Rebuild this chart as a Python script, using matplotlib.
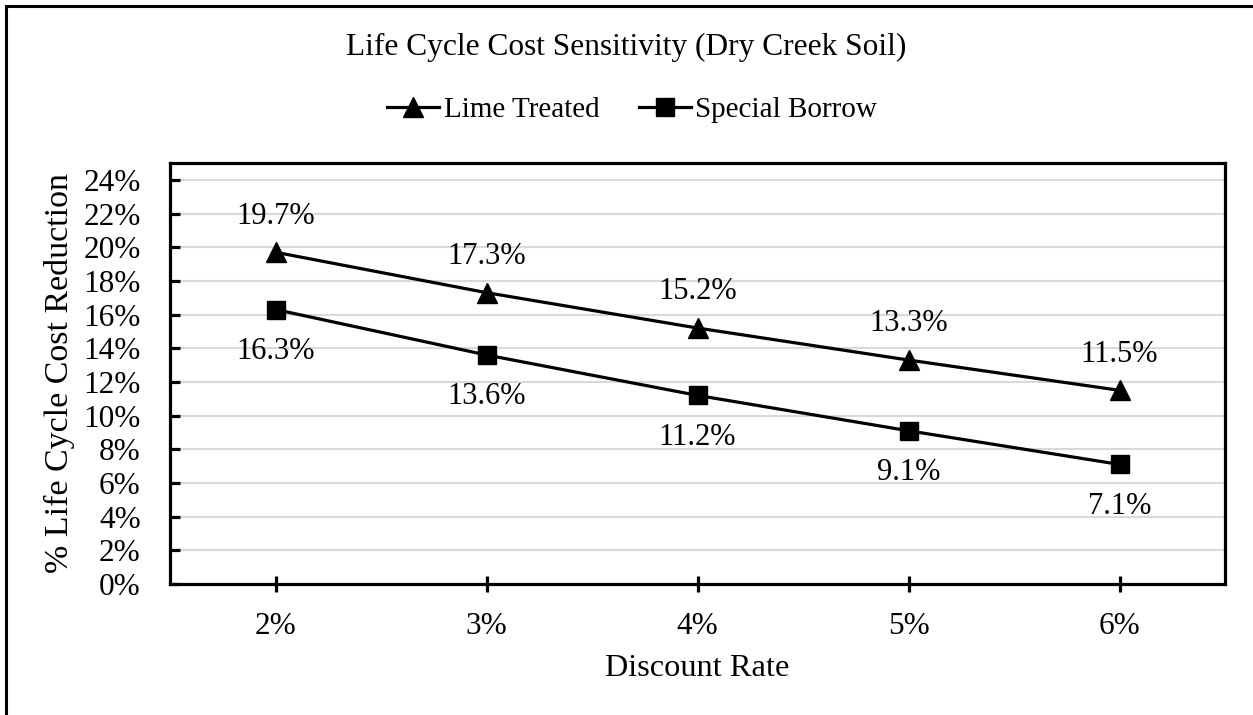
import matplotlib
matplotlib.use("Agg")
import matplotlib.pyplot as plt
from matplotlib.patches import Rectangle
from matplotlib.ticker import FixedLocator

plt.rcParams['font.family'] = ['Liberation Serif', 'DejaVu Serif']

# Chart data
discount_rates = ["2%", "3%", "4%", "5%", "6%"]
lime_treated = [19.7, 17.3, 15.2, 13.3, 11.5]
special_borrow = [16.3, 13.6, 11.2, 9.1, 7.1]
y_ticks = list(range(0, 25, 2))

W, H, DPI = 1253, 715, 100
fig = plt.figure(figsize=(W / DPI, H / DPI), dpi=DPI)
ax = fig.add_axes([170 / W, 1 - 584 / H, (1225 - 170) / W, (584 - 163) / H])

FS_TICK = 22.5
FS_DATA = 22
x = list(range(len(discount_rates)))

ax.plot(x, lime_treated, color='black', lw=2.3, marker='^', ms=14.5,
        label='Lime Treated', zorder=3, clip_on=False)
ax.plot(x, special_borrow, color='black', lw=2.3, marker='s', ms=13.5,
        label='Special Borrow', zorder=3, clip_on=False)

for xi, v in zip(x, lime_treated):
    ax.annotate(f"{v:.1f}%", (xi, v), xytext=(0, 26), textcoords='offset points',
                ha='center', va='center', fontsize=FS_DATA)
for xi, v in zip(x, special_borrow):
    ax.annotate(f"{v:.1f}%", (xi, v), xytext=(0, -30), textcoords='offset points',
                ha='center', va='center', fontsize=FS_DATA)

ax.set_xlim(-0.5, len(discount_rates) - 0.5)
ax.set_ylim(0, 25)
ax.set_xticks(x)
ax.set_xticklabels(discount_rates, fontsize=FS_TICK)
ax.yaxis.set_major_locator(FixedLocator(y_ticks))
ax.set_yticklabels([f"{t}%" for t in y_ticks], fontsize=FS_TICK)

ax.grid(axis='y', color='#d9d9d9', lw=1.5, zorder=0)
ax.set_axisbelow(True)
for s in ax.spines.values():
    s.set_linewidth(2.3)
    s.set_color('black')

ax.tick_params(axis='y', direction='in', length=7, width=2.3, pad=21)
ax.tick_params(axis='x', direction='inout', length=11, width=2.3, pad=15)

ax.set_xlabel("Discount Rate", fontsize=23.3, labelpad=9)
ax.set_ylabel("% Life Cycle Cost Reduction", fontsize=24.5, labelpad=6)

fig.text(0.5, 1 - 47 / H, "Life Cycle Cost Sensitivity (Dry Creek Soil)",
         ha='center', va='center', fontsize=22.6)

fig.legend(loc='center', bbox_to_anchor=(632 / W, 1 - 110 / H), ncol=2,
           frameon=False, fontsize=21, handlelength=1.8, handletextpad=0.15,
           columnspacing=1.35, markerscale=0.95)

# Outer chart frame
fig.patches.append(Rectangle((6 / W, -0.1), 1.2, 1 - 6 / H + 0.1,
                             transform=fig.transFigure, fill=False,
                             edgecolor='black', lw=2.2))

fig.savefig("out.png", dpi=DPI)
